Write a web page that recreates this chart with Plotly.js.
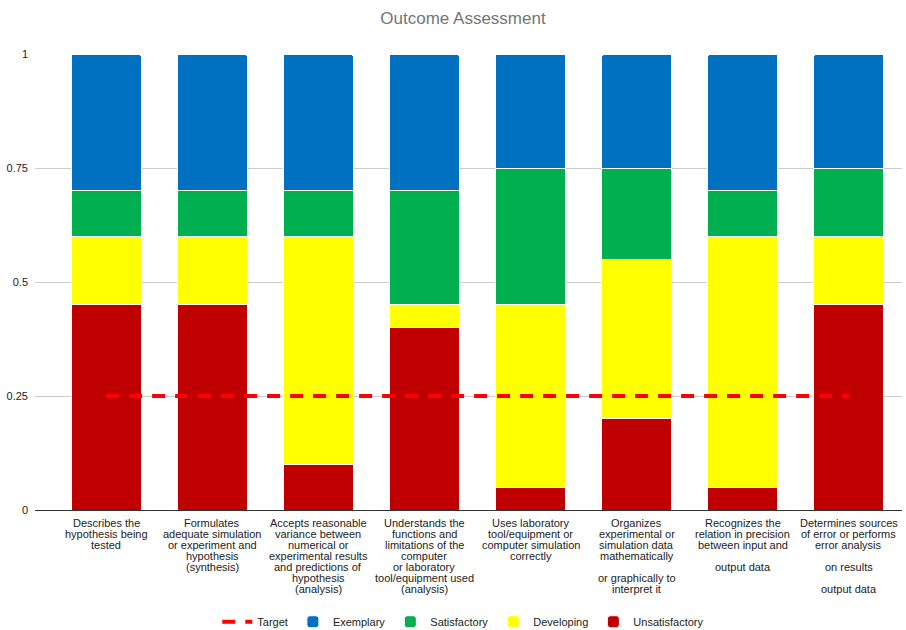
<!DOCTYPE html>
<html>
<head>
<meta charset="utf-8">
<script src="https://cdn.plot.ly/plotly-3.0.1.min.js"></script>
<style>html,body{margin:0;padding:0;background:#fff;}#chart{width:906px;height:630px;}</style>
</head>
<body>
<div id="chart"></div>
<script>
var categories = [
  "Describes the<br>hypothesis being<br>tested",
  "Formulates<br>adequate simulation<br>or experiment and<br>hypothesis<br>(synthesis)",
  "Accepts reasonable<br>variance between<br>numerical or<br>experimental results<br>and predictions of<br>hypothesis<br>(analysis)",
  "Understands the<br>functions and<br>limitations of the<br>computer<br>or laboratory<br>tool/equipment used<br>(analysis)",
  "Uses laboratory<br>tool/equipment or<br>computer simulation<br>correctly",
  "Organizes<br>experimental or<br>simulation data<br>mathematically<br><br>or graphically to<br>interpret it",
  "Recognizes the<br>relation in precision<br>between input and<br><br>output data",
  "Determines sources<br>of error or performs<br>error analysis<br><br>on results<br><br>output data"
];
var unsatisfactory = [0.45, 0.45, 0.10, 0.40, 0.05, 0.20, 0.05, 0.45];
var developing     = [0.15, 0.15, 0.50, 0.05, 0.40, 0.35, 0.55, 0.15];
var satisfactory   = [0.10, 0.10, 0.10, 0.25, 0.30, 0.20, 0.10, 0.15];
var exemplary      = [0.30, 0.30, 0.30, 0.30, 0.25, 0.25, 0.30, 0.25];
var target         = [0.25, 0.25, 0.25, 0.25, 0.25, 0.25, 0.25, 0.25];
var yTickVals  = [0, 0.25, 0.5, 0.75, 1];
var yTickText  = ["0", "0.25", "0.5", "0.75", "1"];

var FONT = "Liberation Sans, Arial, sans-serif";
var idx = categories.map(function(_, i){ return i; });

function barTrace(name, vals, color, rank) {
  return {
    type: "bar", name: name, x: idx, y: vals,
    marker: {color: color, line: {color: "#ffffff", width: 1}},
    width: 0.66, legendrank: rank, hoverinfo: "y+name"
  };
}

var traces = [
  barTrace("Unsatisfactory", unsatisfactory, "#C00000", 5),
  barTrace("Developing", developing, "#FFFF00", 4),
  barTrace("Satisfactory", satisfactory, "#00B050", 3),
  barTrace("Exemplary", exemplary, "#0070C0", 2),
  {
    type: "scatter", mode: "lines", name: "Target", x: idx, y: target,
    line: {color: "#FF0000", width: 4, dash: "13px,10px"},
    legendrank: 1
  }
];

var annotations = [];
categories.forEach(function(label, i){
  label.split("<br>").forEach(function(line, j){
    if (!line) return;
    annotations.push({
      xref: "x", yref: "y", x: i, y: 0,
      text: line, showarrow: false,
      xanchor: "center", yanchor: "middle",
      yshift: -(13 + j * 11),
      font: {family: FONT, size: 11, color: "#222222"}
    });
  });
});

var layout = {
  width: 906, height: 630,
  margin: {l: 35, r: 4, t: 54, b: 120, autoexpand: false},
  paper_bgcolor: "#ffffff", plot_bgcolor: "#ffffff",
  font: {family: FONT, size: 11, color: "#222222"},
  title: {
    text: "Outcome Assessment",
    font: {family: FONT, size: 17, color: "#757575"},
    x: 0.511, xanchor: "center", xref: "container",
    y: 0.972, yanchor: "middle", yref: "container"
  },
  barmode: "stack",
  barcornerradius: 3,
  showlegend: true,
  legend: {
    orientation: "h", x: 0.494, xanchor: "center",
    y: -0.245, yanchor: "middle", traceorder: "normal",
    font: {family: FONT, size: 11, color: "#222222"}
  },
  xaxis: {
    type: "linear", range: [-0.67, 7.5],
    showticklabels: false, showgrid: false, zeroline: false,
    showline: true, linecolor: "#333333", linewidth: 1,
    ticks: "", fixedrange: true
  },
  yaxis: {
    range: [0, 1], tickvals: yTickVals, ticktext: yTickText,
    showgrid: true, gridcolor: "#cccccc", gridwidth: 1,
    zeroline: false, showline: false, ticks: "",
    ticklabelstandoff: 6,
    tickfont: {family: FONT, size: 11, color: "#222222"}
  },
  annotations: annotations
};

Plotly.newPlot("chart", traces, layout, {displayModeBar: false, staticPlot: true});
</script>
</body>
</html>
